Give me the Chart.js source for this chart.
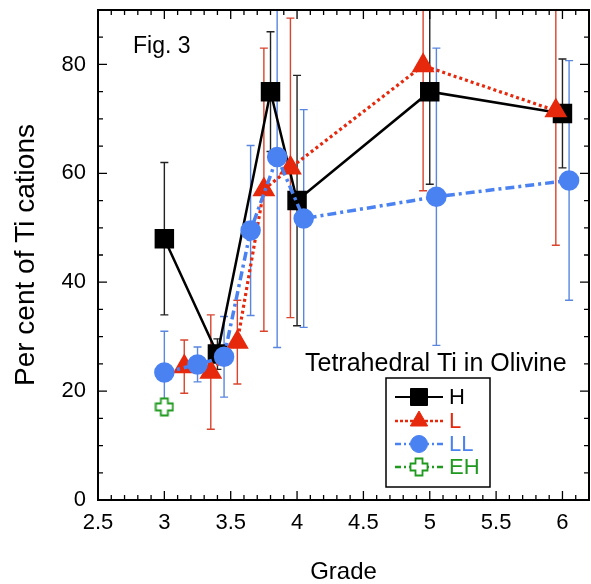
<!DOCTYPE html>
<html>
<head>
<meta charset="utf-8">
<script src="https://cdn.jsdelivr.net/npm/chart.js@4.4.1/dist/chart.umd.min.js"></script>
<style>
  html, body { margin: 0; padding: 0; background: #fff; }
  canvas { display: block; }
</style>
</head>
<body>
<canvas id="tiChart" width="591" height="584"></canvas>
<script>
// tick labels
const xTicks = [2.5, 3, 3.5, 4, 4.5, 5, 5.5, 6];
const yTicks = [0, 20, 40, 60, 80];

// H chondrites
const hGrade = [3.0, 3.4, 3.8, 4.0, 5.0, 6.0];
const hTi = [48, 26.8, 75, 55, 75, 71];
const hErr = [14, 2.8, 11, 23, 17, 10];

// L chondrites
const lGrade = [3.15, 3.35, 3.55, 3.75, 3.95, 4.95, 5.95];
const lTi = [24.5, 23.5, 29, 57, 61, 79.8, 71.5];
const lErr = [4.9, 10.5, 7.7, 26, 27.5, 23, 24.7];

// LL chondrites
const llGrade = [3.0, 3.25, 3.45, 3.65, 3.85, 4.05, 5.05, 6.05];
const llTi = [23.4, 24.9, 26.3, 49.5, 63, 51.7, 55.7, 58.7];
const llErr = [7.6, 3.2, 7.4, 15.6, 35, 20, 27.3, 22];

// EH chondrite
const ehGrade = [3.0];
const ehTi = [17.1];

const FONT = '"Liberation Sans", Arial, Helvetica, sans-serif';

function toPoints(xs, ys) {
    return xs.map((x, i) => ({ x: x, y: ys[i] }));
}

// open plus marker for EH
function makePlus(color) {
    const c = document.createElement('canvas');
    c.width = 20;
    c.height = 20;
    const g = c.getContext('2d');
    const a = 3.5, b = 8.5, m = 10;
    g.beginPath();
    g.moveTo(m - a, m - b);
    g.lineTo(m + a, m - b);
    g.lineTo(m + a, m - a);
    g.lineTo(m + b, m - a);
    g.lineTo(m + b, m + a);
    g.lineTo(m + a, m + a);
    g.lineTo(m + a, m + b);
    g.lineTo(m - a, m + b);
    g.lineTo(m - a, m + a);
    g.lineTo(m - b, m + a);
    g.lineTo(m - b, m - a);
    g.lineTo(m - a, m - a);
    g.closePath();
    g.fillStyle = '#fff';
    g.fill();
    g.strokeStyle = color;
    g.lineWidth = 1.8;
    g.stroke();
    return c;
}

const plusMarker = makePlus('#1f9a1f');

const errorBars = {
    id: 'errorBars',
    beforeDatasetsDraw(chart) {
        const ctx = chart.ctx;
        const area = chart.chartArea;
        ctx.save();
        ctx.beginPath();
        ctx.rect(area.left, area.top, area.right - area.left, area.bottom - area.top);
        ctx.clip();
        chart.data.datasets.forEach((ds, i) => {
            if (!ds.errors) return;
            const meta = chart.getDatasetMeta(i);
            const ys = chart.scales.y;
            ctx.strokeStyle = ds.errorColor;
            ctx.lineWidth = 1.4;
            ds.data.forEach((p, j) => {
                const px = meta.data[j].x;
                const top = ys.getPixelForValue(p.y + ds.errors[j]);
                const bot = ys.getPixelForValue(p.y - ds.errors[j]);
                ctx.beginPath();
                ctx.moveTo(px, top);
                ctx.lineTo(px, bot);
                ctx.moveTo(px - 4, top);
                ctx.lineTo(px + 4, top);
                ctx.moveTo(px - 4, bot);
                ctx.lineTo(px + 4, bot);
                ctx.stroke();
            });
        });
        ctx.restore();
    }
};

const frameAndText = {
    id: 'frameAndText',
    afterDraw(chart) {
        const ctx = chart.ctx;
        const a = chart.chartArea;
        const xs = chart.scales.x;
        const ys = chart.scales.y;
        ctx.save();
        ctx.strokeStyle = '#000';
        ctx.lineWidth = 1.3;
        ctx.beginPath();
        // x ticks top and bottom
        for (let k = 0; k <= 37; k++) {
            const v = 2.5 + k * 0.1;
            const px = xs.getPixelForValue(v);
            const len = (k % 5 === 0) ? 9 : 5;
            ctx.moveTo(px, a.bottom);
            ctx.lineTo(px, a.bottom - len);
            ctx.moveTo(px, a.top);
            ctx.lineTo(px, a.top + len);
        }
        // y ticks left and right
        for (let k = 0; k <= 18; k++) {
            const v = k * 5;
            const py = ys.getPixelForValue(v);
            const len = (k % 4 === 0) ? 9 : 5;
            ctx.moveTo(a.left, py);
            ctx.lineTo(a.left + len, py);
            ctx.moveTo(a.right, py);
            ctx.lineTo(a.right - len, py);
        }
        ctx.stroke();
        ctx.lineWidth = 2;
        ctx.strokeRect(a.left, a.top, a.right - a.left, a.bottom - a.top);

        ctx.fillStyle = '#000';
        ctx.textBaseline = 'alphabetic';
        ctx.textAlign = 'left';
        ctx.font = '23px ' + FONT;
        ctx.fillText('Fig. 3', 133, 53);
        ctx.font = '25px ' + FONT;
        ctx.fillText('Tetrahedral Ti in Olivine', 305, 371);

        // legend
        const bx = 386, by = 378, bw = 104, bh = 109;
        ctx.fillStyle = '#fff';
        ctx.fillRect(bx, by, bw, bh);
        ctx.lineWidth = 1.5;
        ctx.strokeStyle = '#000';
        ctx.strokeRect(bx, by, bw, bh);
        const rows = [397, 421, 444, 467];
        ctx.font = '22px ' + FONT;
        ctx.textBaseline = 'middle';
        chart.data.datasets.forEach((ds, i) => {
            const y = rows[i];
            ctx.save();
            ctx.strokeStyle = ds.borderColor;
            ctx.lineWidth = ds.legendLineWidth;
            ctx.setLineDash(ds.legendDash);
            ctx.beginPath();
            ctx.moveTo(395, y);
            ctx.lineTo(443, y);
            ctx.stroke();
            ctx.restore();
            ctx.fillStyle = ds.pointBackgroundColor;
            ctx.strokeStyle = ds.pointBorderColor;
            ctx.lineWidth = 1;
            Chart.helpers.drawPoint(ctx, {
                pointStyle: ds.pointStyle,
                radius: ds.pointRadius,
                rotation: 0,
                borderWidth: 1
            }, 419, y);
            ctx.fillStyle = ds.legendTextColor;
            ctx.fillText(ds.label, 449, y + 1);
        });
        ctx.restore();
    }
};

new Chart(document.getElementById('tiChart'), {
    type: 'scatter',
    data: {
        datasets: [
            {
                label: 'H',
                data: toPoints(hGrade, hTi),
                errors: hErr,
                errorColor: '#222',
                showLine: true,
                borderColor: '#000',
                borderWidth: 2.5,
                pointStyle: 'rect',
                pointRadius: 12,
                pointBackgroundColor: '#000',
                pointBorderColor: '#000',
                legendDash: [],
                legendLineWidth: 2,
                legendTextColor: '#000',
                order: 3
            },
            {
                label: 'L',
                data: toPoints(lGrade, lTi),
                errors: lErr,
                errorColor: '#d9442e',
                showLine: true,
                borderColor: '#e6280c',
                borderWidth: 3.2,
                borderDash: [3, 3],
                pointStyle: 'triangle',
                pointRadius: 10,
                pointBackgroundColor: '#e6280c',
                pointBorderColor: '#e6280c',
                legendDash: [3, 2],
                legendLineWidth: 2.5,
                legendTextColor: '#e6280c',
                order: 2
            },
            {
                label: 'LL',
                data: toPoints(llGrade, llTi),
                errors: llErr,
                errorColor: '#5a86e0',
                showLine: true,
                borderColor: '#4a82f2',
                borderWidth: 3.5,
                borderDash: [9, 4, 3, 4],
                pointStyle: 'circle',
                pointRadius: 8.5,
                pointBackgroundColor: '#4a82f2',
                pointBorderColor: '#4a82f2',
                legendDash: [6, 3, 2, 3],
                legendLineWidth: 2.5,
                legendTextColor: '#4a82f2',
                order: 1
            },
            {
                label: 'EH',
                data: toPoints(ehGrade, ehTi),
                showLine: false,
                borderColor: '#1f9a1f',
                pointStyle: plusMarker,
                pointRadius: 9,
                pointBackgroundColor: '#fff',
                pointBorderColor: '#1f9a1f',
                legendDash: [6, 3, 2, 3],
                legendLineWidth: 2.5,
                legendTextColor: '#1f9a1f',
                order: 0
            }
        ]
    },
    options: {
        responsive: false,
        animation: false,
        events: [],
        layout: { autoPadding: false, padding: { top: 10, right: 2, left: 0, bottom: 0 } },
        plugins: {
            legend: { display: false },
            tooltip: { enabled: false }
        },
        scales: {
            x: {
                type: 'linear',
                min: 2.5,
                max: 6.2,
                grid: { display: false, drawTicks: false },
                border: { display: false },
                afterBuildTicks: (scale) => { scale.ticks = xTicks.map(v => ({ value: v })); },
                afterFit: (scale) => {
                    scale.height = 84;
                    scale.paddingLeft = 0;
                    scale.paddingRight = 0;
                },
                ticks: {
                    padding: 10,
                    color: '#000',
                    font: { family: FONT, size: 22 },
                    callback: (v) => String(v)
                },
                title: {
                    display: true,
                    text: 'Grade',
                    color: '#000',
                    padding: 0,
                    font: { family: FONT, size: 24, lineHeight: 1 }
                }
            },
            y: {
                type: 'linear',
                min: 0,
                max: 90,
                grid: { display: false, drawTicks: false },
                border: { display: false },
                afterBuildTicks: (scale) => { scale.ticks = yTicks.map(v => ({ value: v })); },
                afterFit: (scale) => {
                    scale.width = 98;
                    scale.paddingTop = 0;
                    scale.paddingBottom = 0;
                },
                ticks: {
                    padding: 12,
                    color: '#000',
                    font: { family: FONT, size: 22 },
                    callback: (v) => String(v)
                },
                title: {
                    display: true,
                    text: 'Per cent of Ti cations',
                    color: '#000',
                    padding: { top: 12, bottom: 0 },
                    font: { family: FONT, size: 28, lineHeight: 1 }
                }
            }
        }
    },
    plugins: [errorBars, frameAndText]
});
</script>
</body>
</html>
